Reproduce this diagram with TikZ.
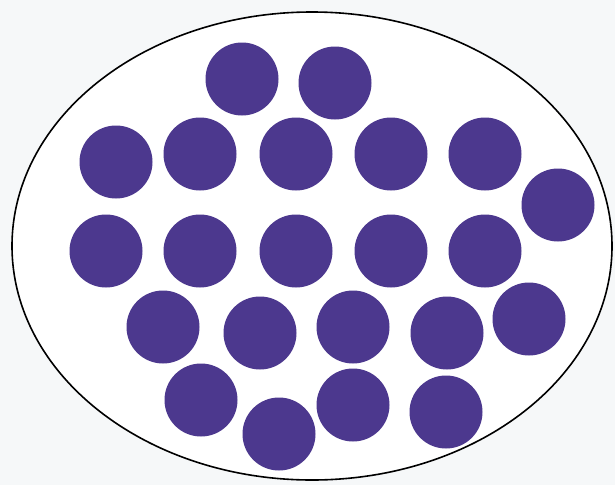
\documentclass[tikz,border=0pt]{standalone}
\begin{document}
\begin{tikzpicture}[x=1pt,y=-1pt,
  dot/.style={circle,fill=dotpurple,draw=none,minimum size=73pt,inner sep=0pt},
  ring/.style={draw=black,line width=1.6pt}]
\definecolor{dotpurple}{RGB}{76,56,142}
\definecolor{paper}{RGB}{246,248,249}
\fill[paper] (0,0) rectangle (615,485);
\useasboundingbox (0,0) rectangle (615,485);
\draw[ring,fill=white] (312,246) ellipse [x radius=300, y radius=234];
% row 1
\node[dot] (c1) at (242,79) {};
\node[dot] (c2) at (335,83) {};
% row 2
\node[dot] (c3) at (116,162) {};
\node[dot] (c4) at (200,154) {};
\node[dot] (c5) at (296,154) {};
\node[dot] (c6) at (391,154) {};
\node[dot] (c7) at (485,154) {};
\node[dot] (c8) at (558,205) {};
% row 3
\node[dot] (c9) at (106,251) {};
\node[dot] (c10) at (200,251) {};
\node[dot] (c11) at (296,251) {};
\node[dot] (c12) at (391,251) {};
\node[dot] (c13) at (485,251) {};
% row 4
\node[dot] (c14) at (163,327) {};
\node[dot] (c15) at (260,333) {};
\node[dot] (c16) at (353,327) {};
\node[dot] (c17) at (447,333) {};
\node[dot] (c18) at (529,319) {};
% row 5
\node[dot] (c19) at (201,400) {};
\node[dot] (c20) at (279,434) {};
\node[dot] (c21) at (353,405) {};
\node[dot] (c22) at (446,412) {};
\end{tikzpicture}
\end{document}
